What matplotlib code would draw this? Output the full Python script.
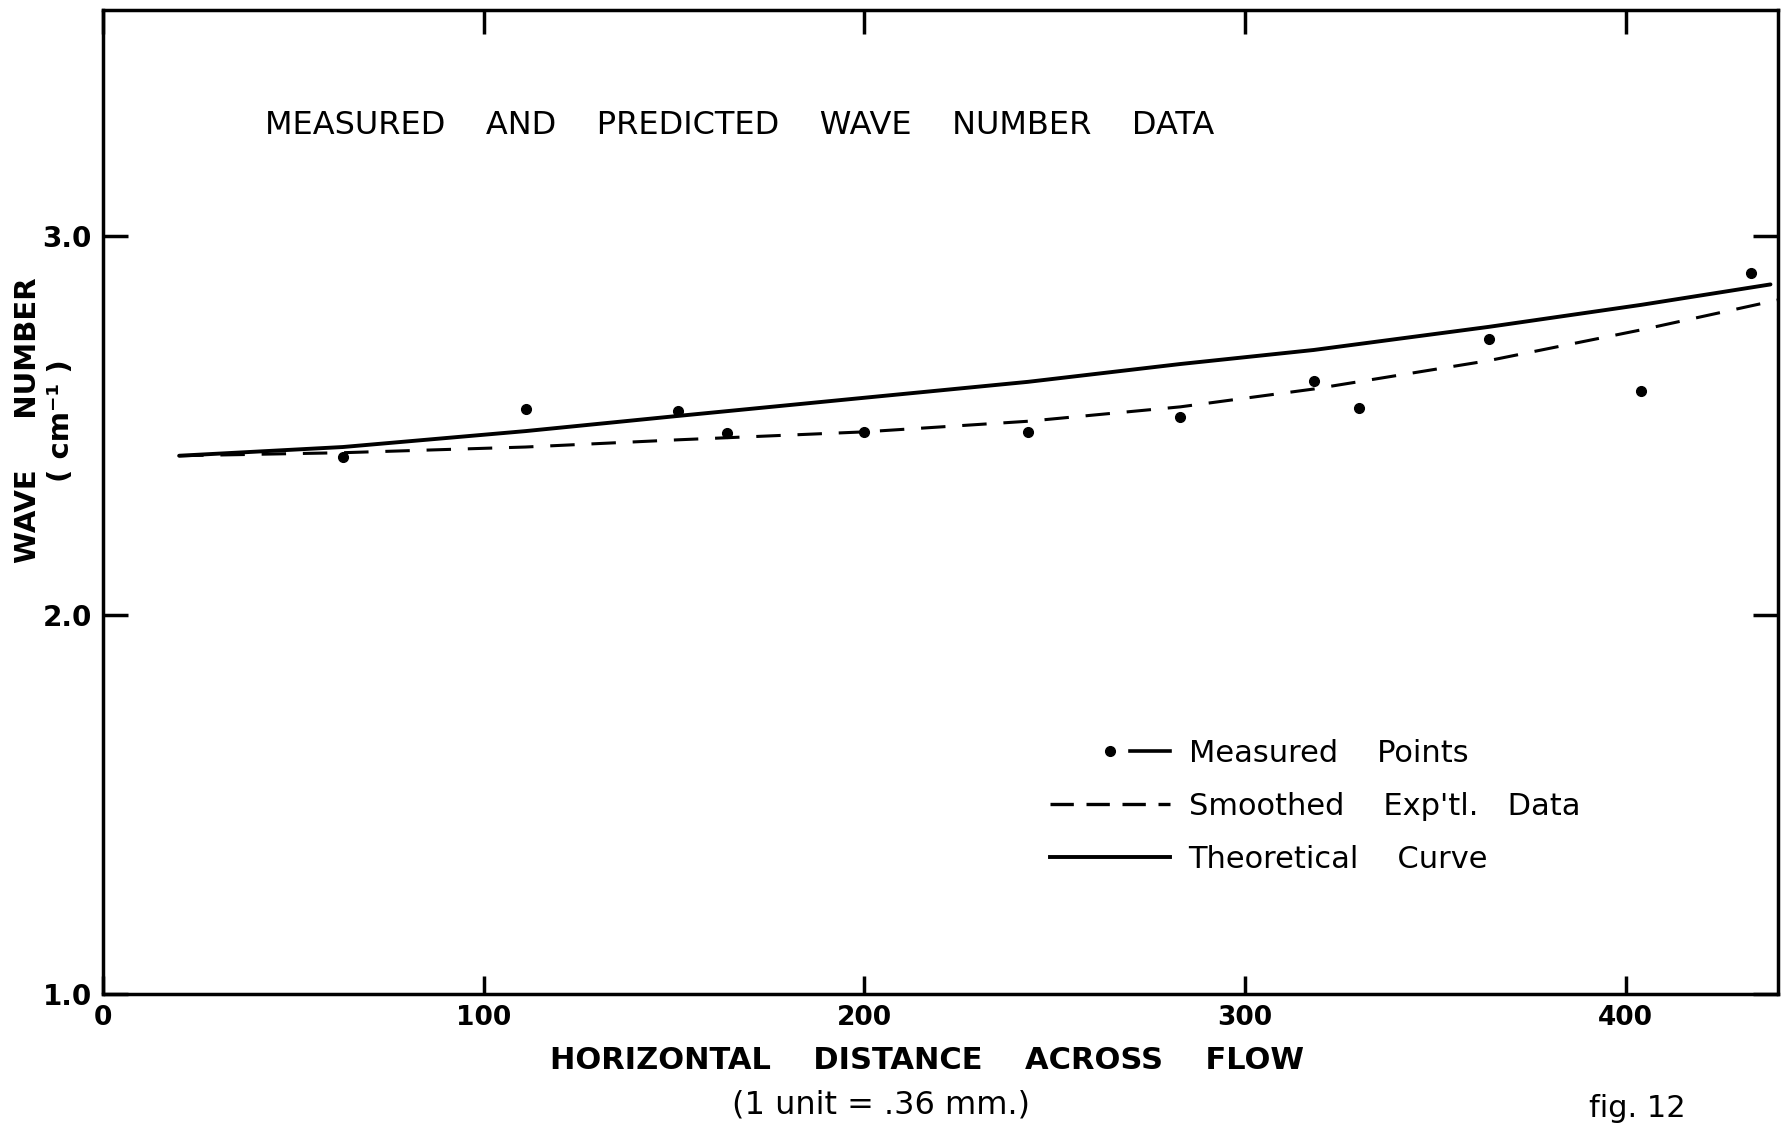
import numpy as np
import matplotlib.pyplot as plt
from matplotlib.lines import Line2D
from matplotlib.legend_handler import HandlerTuple

# measured wave numbers (cm^-1) vs horizontal distance (1 unit = .36 mm)
meas_x = [63, 111, 151, 164, 200, 243, 283, 318, 330, 364, 404, 433]
meas_y = [2.417, 2.543, 2.539, 2.479, 2.483, 2.483, 2.522, 2.617, 2.546, 2.728, 2.591, 2.902]

# smoothed experimental data (dashed)
smooth_x = [20, 63, 111, 151, 200, 243, 283, 318, 364, 404, 440]
smooth_y = [2.42, 2.428, 2.443, 2.462, 2.483, 2.511, 2.549, 2.596, 2.671, 2.752, 2.831]

# theoretical curve (solid)
theory_x = [20, 63, 111, 151, 200, 243, 283, 318, 364, 404, 438]
theory_y = [2.42, 2.443, 2.485, 2.525, 2.573, 2.615, 2.662, 2.699, 2.760, 2.818, 2.872]

xticks = [0, 100, 200, 300, 400]
yticks = [1.0, 2.0, 3.0]

plt.rcParams['font.family'] = 'DejaVu Sans'

fig = plt.figure(figsize=(17.82, 11.23), dpi=100)
ax = fig.add_axes([0.0578, 0.1149, 0.94, 0.8762])

ax.plot(theory_x, theory_y, color='k', lw=2.8, solid_capstyle='round')
ax.plot(smooth_x, smooth_y, color='k', lw=2.2, dashes=(8, 5.5))
ax.plot(meas_x, meas_y, 'o', color='k', ms=7)

ax.set_xlim(0, 440)
ax.set_ylim(1.0, 3.596)
ax.set_xticks(xticks)
ax.set_yticks(yticks)
ax.set_xticklabels([str(v) for v in xticks], fontsize=19, fontweight='bold')
ax.set_yticklabels(['%.1f' % v for v in yticks], fontsize=20, fontweight='bold')

for s in ax.spines.values():
    s.set_linewidth(2.5)
ax.tick_params(direction='in', top=True, right=True, width=2.5, length=13)
ax.tick_params(axis='x', pad=8)
ax.tick_params(axis='y', pad=8, length=18)
for t in ax.xaxis.get_major_ticks():
    t.tick2line.set_markersize(17)

ax.text(0.0965, 0.883, 'MEASURED    AND    PREDICTED    WAVE    NUMBER    DATA',
        transform=ax.transAxes, fontsize=23, ha='left', va='center')

ax.set_xlabel('HORIZONTAL    DISTANCE    ACROSS    FLOW', fontsize=22, fontweight='bold')
ax.xaxis.set_label_coords(0.492, -0.068)
ax.xaxis.label.set_va('center')
ax.text(0.4645, -0.113, '(1 unit = .36 mm.)', transform=ax.transAxes,
        fontsize=23, ha='center', va='center')

ax.set_ylabel('WAVE     NUMBER\n( cm⁻¹ )', fontsize=21, fontweight='bold',
              linespacing=1.2)
ax.yaxis.set_label_coords(-0.035, 0.583)
ax.yaxis.label.set_va('center')

fig.text(0.919, 0.0, 'fig. 12', fontsize=22, ha='center', va='bottom')

# legend: dot + short dash for the measured points
blank = Line2D([], [], ls='none')
dot = Line2D([], [], ls='none', marker='o', color='k', ms=7)
dash = Line2D([], [], color='k', lw=2.6)
h_smooth = Line2D([], [], color='k', lw=2.4, dashes=(7, 3.8))
h_theory = Line2D([], [], color='k', lw=2.8)
ax.legend([(blank, dot, dash), h_smooth, h_theory],
          ['Measured    Points', 'Smoothed    Exp\'tl.   Data', 'Theoretical    Curve'],
          handler_map={tuple: HandlerTuple(ndivide=None, pad=0)},
          loc='upper left', bbox_to_anchor=(0.5654, 0.259), frameon=False,
          fontsize=22, handlelength=3.93, handletextpad=0.6, labelspacing=0.78,
          borderpad=0, borderaxespad=0)

fig.savefig('out.png', dpi=100)
